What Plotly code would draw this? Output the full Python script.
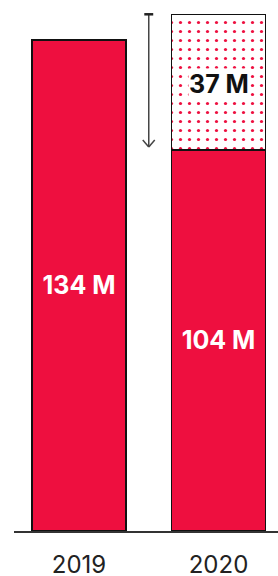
import plotly.graph_objects as go

years = ["2019", "2020"]
base_values = [134, 104]      # solid red part (M)
added_values = [0, 37]        # dotted part (M)

RED = "#EE0F3F"
FONT = "Inter, Roboto, sans-serif"

x = [0, 1]
fig = go.Figure()
fig.add_trace(go.Bar(
    x=x, y=base_values, width=0.674,
    marker=dict(color=RED, line=dict(color="#111", width=1.5)),
    text=[f"{v} M" for v in base_values], texttemplate="%{text}",
    textposition="inside", insidetextanchor="middle",
    textfont=dict(color="white", size=25, family=FONT, weight="bold"),
    hoverinfo="skip",
))
fig.add_trace(go.Bar(
    x=x, y=added_values, width=0.674,
    marker=dict(color="white", line=dict(color="#111", width=1.5),
                pattern=dict(shape=".", fgcolor=RED, bgcolor="white",
                             size=9, solidity=0.1, fillmode="replace")),
    hoverinfo="skip",
))

# label for added segment
top2020 = base_values[1] + added_values[1]
fig.add_annotation(x=1, y=base_values[1] + added_values[1] / 2 - 0.5,
                   text=f"<b>{added_values[1]} M</b>", showarrow=False,
                   font=dict(color="#111", size=25, family=FONT),
                   bgcolor="white", borderpad=0)

# arrow from 2020 total down to 2020 base
ax = 0.5
tip = base_values[1] + 0.8
shapes = [
    dict(type="line", x0=ax, x1=ax, y0=top2020, y1=tip, line=dict(color="#444", width=1.5)),
    dict(type="line", x0=ax - 0.032, x1=ax + 0.032, y0=top2020, y1=top2020, line=dict(color="#222", width=2.5)),
    dict(type="line", x0=ax - 0.043, x1=ax, y0=tip + 1.9, y1=tip, line=dict(color="#444", width=1.5)),
    dict(type="line", x0=ax + 0.043, x1=ax, y0=tip + 1.9, y1=tip, line=dict(color="#444", width=1.5)),
]

fig.update_layout(
    width=278, height=576,
    margin=dict(l=14, r=0, t=0, b=45, autoexpand=False),
    paper_bgcolor="white", plot_bgcolor="white",
    barmode="stack", showlegend=False, shapes=shapes,
    xaxis=dict(range=[-0.466, 1.4265], tickvals=x, ticktext=years,
               showline=True, linecolor="#333", linewidth=1.5,
               showgrid=False, zeroline=False, ticks="",
               ticklabelstandoff=11, automargin=False,
               tickfont=dict(size=24, color="#222", family=FONT)),
    yaxis=dict(range=[0, 144.9], visible=False, showgrid=False, zeroline=False,
               automargin=False),
)

fig.write_html("out.html", config={"displayModeBar": False},
               post_script="document.body.style.margin='0';document.body.style.overflow='hidden';")
